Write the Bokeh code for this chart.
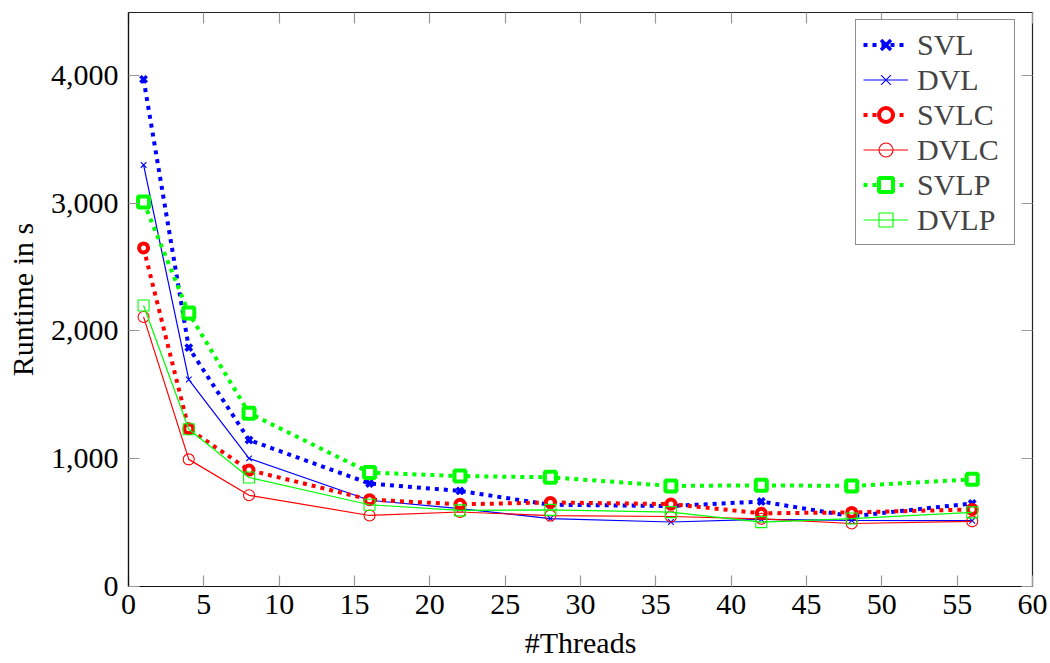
from bokeh.plotting import figure
from bokeh.models import LinearAxis, Range1d, Legend, LegendItem, FixedTicker, NumeralTickFormatter
from bokeh.embed import file_html
from bokeh.resources import INLINE

threads = [1, 4, 8, 16, 22, 28, 36, 42, 48, 56]
svl = [3970, 1870, 1147, 806, 748, 640, 630, 665, 550, 650]
dvl = [3300, 1620, 1003, 675, 609, 532, 505, 525, 517, 515]
svlc = [2650, 1234, 911, 680, 643, 658, 645, 573, 580, 603]
dvlc = [2110, 995, 714, 556, 583, 555, 548, 530, 493, 510]
svlp = [3010, 2140, 1357, 892, 864, 855, 787, 792, 787, 839]
dvlp = [2200, 1231, 853, 640, 596, 600, 582, 504, 532, 580]

x_ticks = [0, 5, 10, 15, 20, 25, 30, 35, 40, 45, 50, 55, 60]
y_ticks = [0, 1000, 2000, 3000, 4000]

FONT = "Liberation Serif"
FS = "30px"

p = figure(width=1050, height=663, output_backend="svg", toolbar_location=None,
           x_range=Range1d(0, 60), y_range=Range1d(0, 4493),
           min_border_left=128, min_border_right=18, min_border_top=12, min_border_bottom=77)
p.xgrid.visible = False
p.ygrid.visible = False
p.outline_line_color = "#222222"
p.outline_line_width = 1.2
p.background_fill_color = "white"
p.border_fill_color = "white"

def style_axis(ax, labels=True):
    ax.major_tick_in = 11
    ax.major_tick_out = 0
    ax.minor_tick_line_color = None
    ax.major_tick_line_color = "#999999"
    ax.major_tick_line_width = 1.2
    ax.axis_line_color = "#111111"
    ax.axis_line_width = 1.2
    if labels:
        ax.major_label_text_font = FONT
        ax.major_label_text_font_size = FS
        ax.major_label_text_color = "black"
        ax.axis_label_text_font = FONT
        ax.axis_label_text_font_size = FS
        ax.axis_label_text_font_style = "normal"
        ax.axis_label_text_color = "black"
    else:
        ax.major_label_text_font_size = "1px"
        ax.major_label_text_color = None
        ax.major_label_standoff = 0
        ax.axis_line_color = None

p.xaxis.ticker = FixedTicker(ticks=x_ticks)
p.yaxis.ticker = FixedTicker(ticks=y_ticks)
p.yaxis.formatter = NumeralTickFormatter(format="0,0")
style_axis(p.xaxis[0])
style_axis(p.yaxis[0])
p.xaxis.axis_label = "#Threads"
p.yaxis.axis_label = "Runtime in s"
p.xaxis.major_label_standoff = 8
p.yaxis.major_label_standoff = 10
p.xaxis.axis_label_standoff = 9
p.yaxis.axis_label_standoff = 9

top = LinearAxis(ticker=FixedTicker(ticks=x_ticks))
style_axis(top, labels=False)
p.add_layout(top, "above")
right = LinearAxis(ticker=FixedTicker(ticks=y_ticks))
style_axis(right, labels=False)
p.add_layout(right, "right")

BLUE, RED, GREEN = "#0000ff", "#ff0000", "#00ff00"
DASH = "4 5"

items = []

def series(label, ys, color, thick, marker, size):
    if thick:
        ln = p.line(threads, ys, line_color=color, line_width=4, line_dash=DASH, line_cap="butt")
        mk = p.scatter(threads, ys, marker=marker, size=size, line_color=color,
                       line_width=4 if marker != "x" else 3.5, fill_color="white")
    else:
        ln = p.line(threads, ys, line_color=color, line_width=1.2)
        mk = p.scatter(threads, ys, marker=marker, size=size, line_color=color,
                       line_width=1.1, fill_color=None)
    items.append(LegendItem(label=label, renderers=[ln, mk]))

series("SVL", svl, BLUE, True, "x", 9)
series("DVL", dvl, BLUE, False, "x", 8)
series("SVLC", svlc, RED, True, "circle", 9)
series("DVLC", dvlc, RED, False, "circle", 11)
series("SVLP", svlp, GREEN, True, "square", 11)
series("DVLP", dvlp, GREEN, False, "square", 11)

legend = Legend(items=items, location=(727, 341))
legend.label_text_font = FONT
legend.label_text_font_size = FS
legend.label_standoff = 9
legend.glyph_width = 45
legend.glyph_height = 35
legend.label_height = 35
legend.label_width = 90
legend.spacing = 0
legend.padding = 7
legend.margin = 0
legend.border_line_color = "#222222"
legend.border_line_width = 1.2
legend.background_fill_color = "white"
legend.background_fill_alpha = 1
p.add_layout(legend, "center")

open("out.html", "w").write(file_html(p, INLINE))
